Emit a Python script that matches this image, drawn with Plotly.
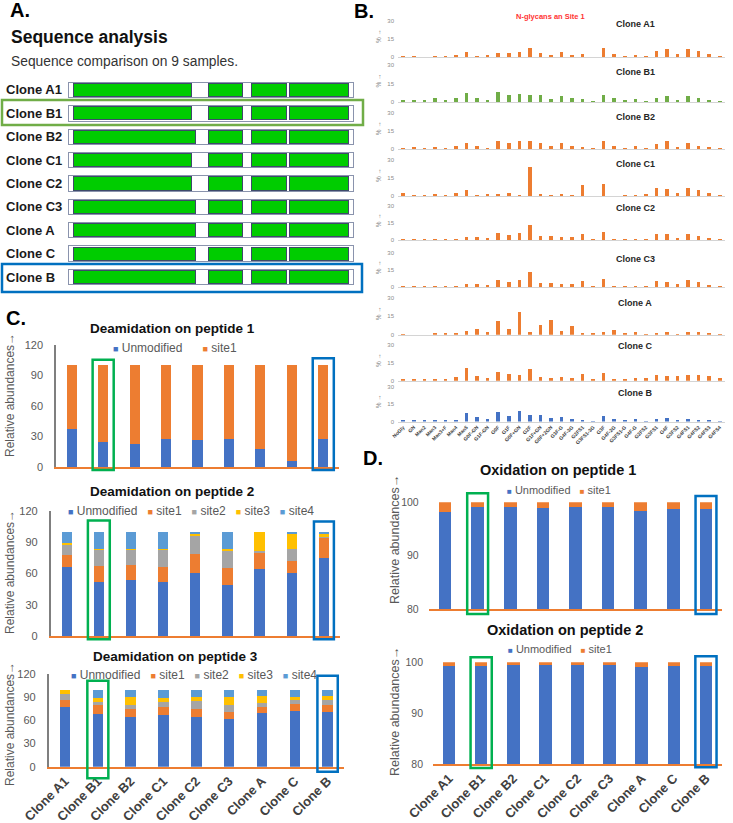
import plotly.graph_objects as go

W, H = 733, 823


def fx(p):
    return p / W


def fy(p):
    return 1 - p / H


FONT = "Liberation Sans, Arial, Helvetica, sans-serif"
ORANGE = "#ED7D31"
BLUE = "#4472C4"
GREEN = "#70AD47"
GREY = "#A5A5A5"
YELLOW = "#FFC000"
LBLUE = "#5B9BD5"
SEQ_GREEN = "#00CC00"
BOX_GREEN = "#00B050"
BOX_BLUE = "#0070C0"
TXT = "#595959"

clones = ["Clone A1", "Clone B1", "Clone B2", "Clone C1", "Clone C2",
          "Clone C3", "Clone A", "Clone C", "Clone B"]

# ---------------- Panel A: sequence comparison (residue positions)
seq_frame = [-6, 457]
seq_first = 1
seg1_end = [194, 194, 200, 194, 194, 200, 200, 200, 200]
seg_shared = [[222, 277], [292, 348], [354, 450]]

# ---------------- Panel B: N-glycans on site 1 (%)
glycans = ["NoGly", "GN", "Man2", "Man3", "Man3+F", "Man4", "Man5", "G0F-GN",
           "G1F-GN", "G0F", "G1F", "G0F+GN", "G2F", "G1F+GN", "G0F+2GN",
           "G3F-G", "G4F-3G", "G2FS1", "G3FS1-3G", "G3F", "G4F-2G", "G3FS1-G",
           "G4F-G", "G2FS2", "G3FS1", "G4F", "G3FS2", "G4FS1", "G4FS2",
           "G4FS3", "G4FS4"]
glycan_A1 = [1.1, 1.1, 0.2, 1.4, 0.8, 1.9, 4.1, 1.1, 1.6, 3.8, 3.8, 4.6, 7.6, 3.8,
             1.9, 4.1, 2.2, 2.5, 0, 7.6, 2.5, 1.1, 2.2, 0.5, 5.2, 6.5, 2.7, 6.8,
             5.4, 3.0, 0.5]
glycan_B1 = [1.0, 2.0, 2.0, 3.0, 1.0, 3.5, 7.5, 3.3, 1.5, 7.8, 6.0, 6.5, 6.0, 5.5,
             2.5, 4.5, 3.0, 2.5, 0.5, 6.0, 3.0, 1.5, 2.5, 0.5, 3.5, 5.0, 2.0, 4.5,
             3.0, 2.0, 0.5]
glycan_B2 = [1.0, 1.5, 1.2, 1.8, 0.6, 3.0, 5.6, 3.0, 1.2, 7.0, 5.0, 7.0, 6.5, 5.6,
             2.5, 5.0, 3.0, 2.0, 0.5, 7.0, 3.0, 1.2, 2.5, 0.5, 4.0, 6.5, 1.8, 5.0,
             3.0, 1.5, 0.3]
glycan_C1 = [2.3, 0.8, 0.8, 1.7, 0.3, 2.3, 4.8, 0.8, 2.0, 1.4, 2.2, 0.8, 24.0, 1.1,
             0.5, 1.7, 0.5, 8.8, 0, 10.0, 0, 0.3, 0.8, 1.4, 7.0, 6.2, 2.8, 6.5,
             4.8, 2.2, 0.5]
glycan_C2 = [1.2, 0.6, 0.6, 1.2, 0.6, 1.5, 3.2, 3.0, 2.0, 6.2, 4.4, 6.5, 13.8, 4.1,
             3.8, 2.6, 2.6, 5.6, 1.2, 7.4, 1.5, 1.2, 1.2, 1.2, 5.6, 5.3, 2.4, 5.6,
             4.1, 2.0, 0.6]
glycan_C3 = [1.4, 0.6, 0.6, 1.2, 0.9, 1.2, 2.9, 2.9, 2.0, 6.0, 4.3, 6.0, 13.0, 3.7,
             3.5, 2.6, 2.6, 5.5, 1.2, 7.5, 1.4, 1.2, 1.2, 1.2, 5.8, 4.9, 2.6, 6.0,
             4.3, 2.0, 0.3]
glycan_A = [0.5, 0, 0, 1.0, 1.4, 1.0, 3.3, 4.9, 1.9, 10.9, 4.4, 18.3, 2.5, 7.6,
            12.3, 3.3, 7.0, 1.0, 1.6, 2.2, 3.5, 1.0, 2.2, 0.3, 1.6, 2.2, 0.5, 2.5,
            1.9, 1.4, 0.3]
glycan_C = [0.8, 1.7, 1.1, 1.9, 1.7, 2.8, 10.5, 4.2, 2.5, 7.5, 6.1, 5.3, 10.0, 3.6,
            2.5, 3.6, 2.5, 5.6, 0.8, 6.4, 1.9, 1.7, 2.2, 2.5, 5.3, 4.4, 4.2, 5.3,
            5.3, 4.4, 2.2]
glycan_B = [0.6, 0.6, 0.6, 1.4, 1.2, 1.7, 7.2, 3.7, 2.0, 8.4, 5.2, 9.5, 5.8, 5.5,
            3.2, 4.0, 2.3, 1.4, 0.3, 5.2, 2.3, 1.2, 2.3, 0.3, 2.0, 3.2, 0.9, 2.6,
            1.7, 0.6, 0.3]
glycan_rows = [glycan_A1, glycan_B1, glycan_B2, glycan_C1, glycan_C2,
               glycan_C3, glycan_A, glycan_C, glycan_B]
glycan_colors = [ORANGE, GREEN, ORANGE, ORANGE, ORANGE, ORANGE, ORANGE, ORANGE, BLUE]

# ---------------- Panel C: deamidation (relative abundances)
site_names = ["Unmodified", "site1", "site2", "site3", "site4"]
site_colors = [BLUE, ORANGE, GREY, YELLOW, LBLUE]

pep1_unmodified = [37.8, 24.7, 23.0, 27.6, 27.0, 27.6, 17.4, 6.2, 27.6]
pep1_site1 = [62.2, 75.3, 77.0, 72.4, 73.0, 72.4, 82.6, 93.8, 72.4]

pep2_unmodified = [66.6, 52.2, 53.5, 51.6, 60.8, 48.7, 64.0, 60.8, 74.8]
pep2_site1 = [11.1, 15.3, 15.0, 15.0, 17.5, 16.3, 15.3, 11.5, 20.1]
pep2_site2 = [10.2, 15.9, 14.9, 16.8, 18.5, 17.2, 2.5, 11.5, 0.6]
pep2_site3 = [1.6, 0.4, 0.4, 0.6, 1.6, 0.9, 18.2, 13.7, 2.0]
pep2_site4 = [10.5, 16.2, 16.2, 16.0, 1.6, 16.9, 0.0, 2.5, 2.5]

pep3_unmodified = [78.0, 69.0, 65.0, 67.7, 65.1, 61.3, 70.2, 72.3, 71.5]
pep3_site1 = [8.0, 10.6, 9.4, 10.2, 9.4, 9.8, 7.2, 9.4, 8.1]
pep3_site2 = [8.5, 4.7, 5.1, 6.4, 10.6, 8.9, 4.7, 5.5, 6.8]
pep3_site3 = [5.5, 5.1, 10.6, 5.1, 5.1, 10.2, 9.4, 3.0, 5.1]
pep3_site4 = [0.0, 10.6, 9.9, 10.6, 9.8, 9.8, 8.5, 9.8, 8.5]

# ---------------- Panel D: oxidation
ox1_unmodified = [98.26, 99.2, 99.2, 99.0, 99.2, 99.2, 98.3, 98.8, 98.8]
ox1_site1 = [1.74, 0.8, 0.8, 1.0, 0.8, 0.8, 1.7, 1.2, 1.2]
ox2_unmodified = [99.28, 99.28, 99.54, 99.54, 99.54, 99.54, 99.08, 99.28, 99.28]
ox2_site1 = [0.72, 0.72, 0.46, 0.46, 0.46, 0.46, 0.92, 0.72, 0.72]

highlight = [("Clone B1", BOX_GREEN), ("Clone B", BOX_BLUE)]

# =====================================================================
fig = go.Figure()
layout = dict(width=W, height=H, margin=dict(l=0, r=0, t=0, b=0),
              template="none", paper_bgcolor="white",
              plot_bgcolor="rgba(0,0,0,0)", barmode="stack",
              showlegend=False, hovermode=False,
              font=dict(family=FONT, color=TXT))
ann = []
shp = []


def dom_x(a, b):
    return [fx(a), fx(b)]


def dom_y(top, bottom):
    return [fy(bottom), fy(top)]


def text(x, y, s, size, color="#000000", bold=False, xanchor="left",
         angle=0):
    ann.append(dict(x=fx(x), y=fy(y), xref="paper", yref="paper", text=s,
                    showarrow=False, xanchor=xanchor, yanchor="middle",
                    textangle=angle,
                    font=dict(family=FONT, size=size, color=color,
                              weight="bold" if bold else "normal")))


# ---------------- Panel A
layout["xaxis"] = dict(domain=dom_x(67.5, 354.5), range=[-8, 459],
                       visible=False, anchor="y")
layout["yaxis"] = dict(domain=dom_y(78.3, 288.7), type="category",
                       categoryorder="array", categoryarray=clones,
                       range=[8.5, -0.5], visible=False, anchor="x")
fig.add_trace(go.Bar(y=clones, x=[seq_frame[1] - seq_frame[0]] * 9,
                     base=[seq_frame[0]] * 9, orientation="h", width=0.66,
                     marker=dict(color="white",
                                 line=dict(color="#8A93AD", width=1)),
                     xaxis="x", yaxis="y", hoverinfo="skip"))
fig.add_trace(go.Bar(y=clones, x=[e - seq_first for e in seg1_end],
                     base=[seq_first] * 9, orientation="h", width=0.56,
                     marker=dict(color=SEQ_GREEN,
                                 line=dict(color="#3E4A6A", width=1)),
                     xaxis="x", yaxis="y", hoverinfo="skip"))
for a, b in seg_shared:
    fig.add_trace(go.Bar(y=clones, x=[b - a] * 9, base=[a] * 9,
                         orientation="h", width=0.56,
                         marker=dict(color=SEQ_GREEN,
                                     line=dict(color="#3E4A6A", width=1)),
                         xaxis="x", yaxis="y", hoverinfo="skip"))
for c in clones:
    ann.append(dict(x=fx(4), y=c, xref="paper", yref="y", text=c,
                    showarrow=False, xanchor="left", yanchor="middle",
                    font=dict(family=FONT, size=13, color="#1A1A1A",
                              weight="bold")))
text(8, 10, "A.", 20, "#000000", True)
text(9, 37, "Sequence analysis", 17.5, "#111111", True)
text(9, 61, "Sequence comparison on 9 samples.", 13.8, "#333333")
shp.append(dict(type="rect", xref="paper", yref="paper", x0=fx(2), x1=fx(363),
                y0=fy(100), y1=fy(125), line=dict(color=GREEN, width=2.5)))
shp.append(dict(type="rect", xref="paper", yref="paper", x0=fx(2), x1=fx(362),
                y0=fy(264), y1=fy(292), line=dict(color=BOX_BLUE, width=2.5)))

# ---------------- Panel B
row_zero = [57.3, 102, 149.3, 196, 240.3, 287.3, 334.7, 380.8, 421.5]
row_top = [20.7, 65, 113, 160, 206, 253, 298, 345.3, 387]
title_y = [24, 72, 117, 164, 208, 259, 303, 346, 393]
for i in range(9):
    n = i + 2
    fig.add_trace(go.Bar(x=glycans, y=glycan_rows[i], width=0.34,
                         marker=dict(color=glycan_colors[i], line=dict(width=0)),
                         xaxis=f"x{n}", yaxis=f"y{n}"))
    layout[f"xaxis{n}"] = dict(domain=dom_x(398, 725), type="category",
                               categoryorder="array", categoryarray=glycans,
                               range=[-0.5, 30.5], showline=True,
                               linecolor="#D4D4D4", linewidth=1,
                               showgrid=False, zeroline=False, ticks="",
                               showticklabels=(i == 8), tickangle=-45,
                               tickfont=dict(size=5, color="#404040",
                                             weight="bold"),
                               anchor=f"y{n}", automargin=False)
    layout[f"yaxis{n}"] = dict(domain=dom_y(row_top[i], row_zero[i]),
                               range=[0, 30], tickvals=[0, 15, 30],
                               tickfont=dict(size=6, color="#8C8C8C"),
                               showgrid=False, zeroline=False, showline=False,
                               ticks="", anchor=f"x{n}", automargin=False,
                               ticklabelstandoff=3)
    text(635, title_y[i], clones[i], 9, "#262626", True, "center")
    text(378, (row_top[i] + row_zero[i]) / 2 - 3, "% →", 6.5, "#808080",
         False, "center", -90)
text(352, 11, "B.", 20, "#000000", True)
text(550, 16, "N-glycans an Site 1", 7.5, "#FF3333", True, "center")


# ---------------- Panels C and D
def box_px(dx, xr, dy, yr, ci, half, y0, y1):
    x0 = dx[0] + (ci - half - xr[0]) / (xr[1] - xr[0]) * (dx[1] - dx[0])
    x1 = dx[0] + (ci + half - xr[0]) / (xr[1] - xr[0]) * (dx[1] - dx[0])
    py0 = dy[1] - (y0 - yr[0]) / (yr[1] - yr[0]) * (dy[1] - dy[0])
    py1 = dy[1] - (y1 - yr[0]) / (yr[1] - yr[0]) * (dy[1] - dy[0])
    return x0, x1, py0, py1


charts = [
    dict(n=11, dx=(56, 339), dy=(345, 467), yr=[0, 120],
         ticks=[0, 30, 60, 90, 120], series=[pep1_unmodified, pep1_site1],
         title="Deamidation on peptide 1", tpos=(172, 328),
         lpos=(174.5, 348), lgap=6, lsize=12, ytitle=(10, 395), yline=True,
         labels=False, tsize=13.5, width=0.32,
         boxes=[(0.335, -3, 105.5), (0.335, -3, 107)]),
    dict(n=12, dx=(50.6, 340), dy=(511, 636), yr=[0, 120],
         ticks=[0, 30, 60, 90, 120],
         series=[pep2_unmodified, pep2_site1, pep2_site2, pep2_site3, pep2_site4],
         title="Deamidation on peptide 2", tpos=(172, 492),
         lpos=(190.5, 511), lgap=3, lsize=12, ytitle=(10, 572), yline=True,
         labels=False, tsize=13.5, width=0.32,
         boxes=[(0.34, -3, 111), (0.31, -3, 110)]),
    dict(n=13, dx=(48.6, 344), dy=(674.3, 766.7), yr=[0, 120],
         ticks=[0, 30, 60, 90, 120],
         series=[pep3_unmodified, pep3_site1, pep3_site2, pep3_site3, pep3_site4],
         title="Deamidation on peptide 3", tpos=(175, 656),
         lpos=(193.5, 675), lgap=3, lsize=12, ytitle=(10, 724), yline=True,
         labels=True, tsize=13.5, width=0.32,
         boxes=[(0.32, -15, 111.7), (0.31, -6.6, 118)]),
    dict(n=14, dx=(428.7, 722.3), dy=(502.3, 609.3), yr=[80, 100],
         ticks=[80, 90, 100], series=[ox1_unmodified, ox1_site1],
         title="Oxidation on peptide 1", tpos=(558, 470),
         lpos=(559, 490), lgap=3, lsize=11, ytitle=(395, 540), yline=False,
         labels=False, tsize=14.5, width=0.39,
         boxes=[(0.32, 79.1, 101.7), (0.32, 79.1, 101.2)]),
    dict(n=15, dx=(433, 722), dy=(662.3, 764), yr=[80, 100],
         ticks=[80, 90, 100], series=[ox2_unmodified, ox2_site1],
         title="Oxidation on peptide 2", tpos=(565, 630),
         lpos=(560, 648.5), lgap=3, lsize=11, ytitle=(395, 712), yline=False,
         labels=True, tsize=14.5, width=0.39,
         boxes=[(0.33, 79.2, 101), (0.33, 79.35, 101.2)]),
]

for ch in charts:
    n = ch["n"]
    for k, vals in enumerate(ch["series"]):
        fig.add_trace(go.Bar(x=clones, y=vals, name=site_names[k],
                             width=ch["width"],
                             marker=dict(color=site_colors[k], line=dict(width=0)),
                             xaxis=f"x{n}", yaxis=f"y{n}"))
    layout[f"xaxis{n}"] = dict(domain=dom_x(*ch["dx"]), type="category",
                               categoryorder="array", categoryarray=clones,
                               range=[-0.5, 8.5], showline=True,
                               linecolor=ORANGE, linewidth=1.5,
                               showgrid=False, zeroline=False, ticks="",
                               showticklabels=ch["labels"], tickangle=-45,
                               tickfont=dict(size=13, color="#404040",
                                             weight="bold"),
                               anchor=f"y{n}", automargin=False)
    layout[f"yaxis{n}"] = dict(domain=dom_y(*ch["dy"]), range=ch["yr"],
                               tickvals=ch["ticks"],
                               tickfont=dict(size=11 if ch["yline"] else 10.5,
                                             color=TXT),
                               showgrid=False, zeroline=False,
                               showline=ch["yline"], linecolor="#7F7F7F",
                               linewidth=1.5, ticks="", anchor=f"x{n}",
                               automargin=False, ticklabelstandoff=9)
    text(ch["tpos"][0], ch["tpos"][1], ch["title"], ch["tsize"], "#111111",
         True, "center")
    # legend drawn as a text line with coloured squares
    parts = []
    gap = "\u00a0" * ch["lgap"] if len(ch["series"]) > 2 else "\u00a0" * 6
    if ch["n"] >= 14:
        gap = "\u00a0" * 3
    for k in range(len(ch["series"])):
        parts.append(f"<span style='font-size:{ch['lsize'] - 3}px;"
                     f"color:{site_colors[k]}'>■</span>\u00a0{site_names[k]}")
    text(ch["lpos"][0], ch["lpos"][1], gap.join(parts), ch["lsize"], TXT,
         False, "center")
    text(ch["ytitle"][0], ch["ytitle"][1], "Relative abundances→",
         12 if ch["yline"] else 12.5, TXT, False, "center", -90)
    for (clone, col), (half, y0, y1) in zip(highlight, ch["boxes"]):
        ci = clones.index(clone)
        x0, x1, py0, py1 = box_px(ch["dx"], [-0.5, 8.5], ch["dy"], ch["yr"],
                                  ci, half, y0, y1)
        shp.append(dict(type="rect", xref="paper", yref="paper",
                        x0=fx(x0), x1=fx(x1), y0=fy(py0), y1=fy(py1),
                        line=dict(color=col, width=2.5)))

text(4, 318, "C.", 20, "#000000", True)
text(361, 458, "D.", 20, "#000000", True)

layout["annotations"] = ann
layout["shapes"] = shp
fig.update_layout(**layout)
fig.write_html("out.html")
